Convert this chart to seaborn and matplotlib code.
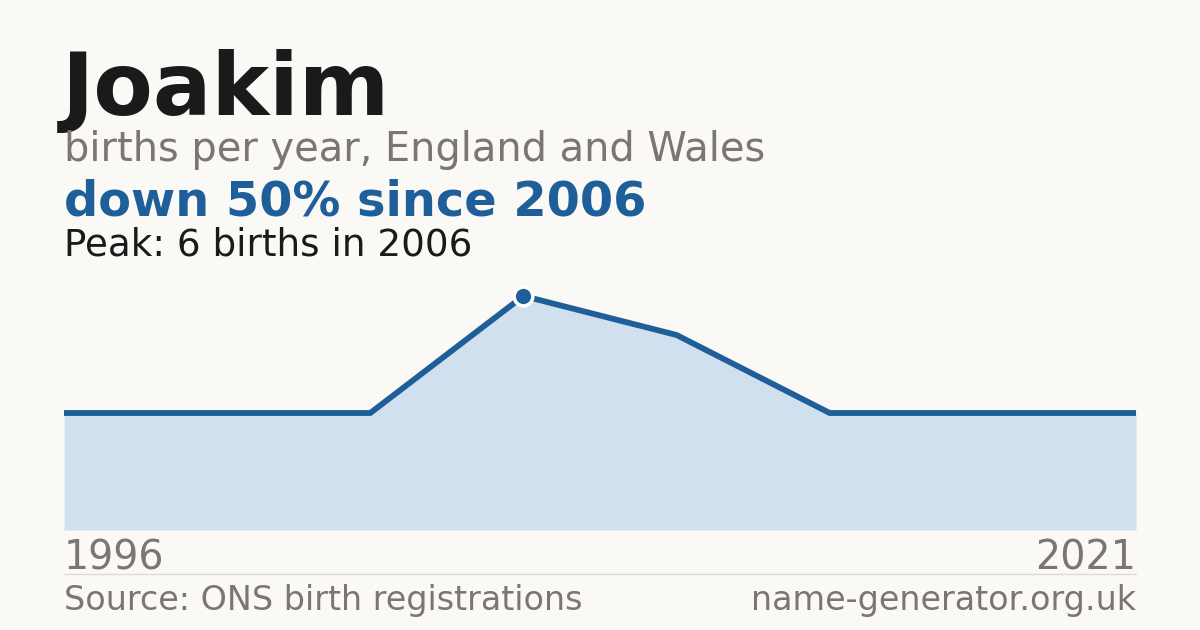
import matplotlib
matplotlib.use("Agg")
import matplotlib.pyplot as plt
import seaborn as sns
import pandas as pd
import numpy as np

# Data
point_index = [0, 1, 2, 3, 4, 5, 6, 7]
births = [3, 3, 3, 6, 5, 3, 3, 3]
first_year = "1996"
last_year = "2021"
peak_idx = 3

title = "Joakim"
subtitle = "births per year, England and Wales"
headline = "down 50% since 2006"
peak_text = "Peak: 6 births in 2006"
source = "Source: ONS birth registrations"
site = "name-generator.org.uk"

BG = "#faf9f5"
BLUE = "#1f5f99"
FILL = "#d0e0ef"
GRAY = "#7a7670"
DARK = "#1a1a1a"

sns.set_theme(style="white")
plt.rcParams['font.family'] = ['DejaVu Sans']

W, H = 1200, 630
fig = plt.figure(figsize=(W / 100, H / 100), dpi=100, facecolor=BG)

# axes: x 64..1136, y 280..530 px
ax_l, ax_r, ax_t, ax_b = 64, 1136, 280, 530
ax = fig.add_axes([ax_l / W, 1 - ax_b / H, (ax_r - ax_l) / W, (ax_b - ax_t) / H])
ax.set_facecolor(BG)
df = pd.DataFrame({"i": point_index, "births": births})
ymax = 6 * (ax_b - ax_t) / (530 - 296)
ax.fill_between(df["i"], 0, df["births"], color=FILL, linewidth=0)
sns.lineplot(data=df, x="i", y="births", ax=ax, color=BLUE, linewidth=4.2,
             solid_joinstyle="miter", solid_capstyle="butt", clip_on=False)
ax.plot([df["i"][peak_idx]], [df["births"][peak_idx]], marker="o", markersize=13.5,
        markerfacecolor=BLUE, markeredgecolor="white", markeredgewidth=2.5,
        clip_on=False, zorder=5)
ax.set_xlim(0, len(point_index) - 1)
ax.set_ylim(0, ymax)
ax.axis("off")

def px(x, y):
    return x / W, 1 - y / H

fig.text(*px(62, 115), title, fontsize=62.5, fontweight="bold", color=DARK, va="baseline")
fig.text(*px(64, 161), subtitle, fontsize=28.7, color=GRAY, va="baseline")
fig.text(*px(64, 215), headline, fontsize=34.5, fontweight="bold", color=BLUE, va="baseline")
fig.text(*px(64, 255), peak_text, fontsize=26.8, color=DARK, va="baseline")
fig.text(*px(64, 569), first_year, fontsize=28.5, color=GRAY, va="baseline")
fig.text(*px(1136, 569), last_year, fontsize=28.5, color=GRAY, va="baseline", ha="right")
fig.add_artist(plt.Line2D([64 / W, 1136 / W], [1 - 574 / H, 1 - 574 / H],
                          color="#dedbd4", linewidth=1))
fig.text(*px(64, 610), source, fontsize=24, color=GRAY, va="baseline")
fig.text(*px(1136, 610), site, fontsize=24, color=GRAY, va="baseline", ha="right")

fig.savefig("out.png", dpi=100, facecolor=BG)
